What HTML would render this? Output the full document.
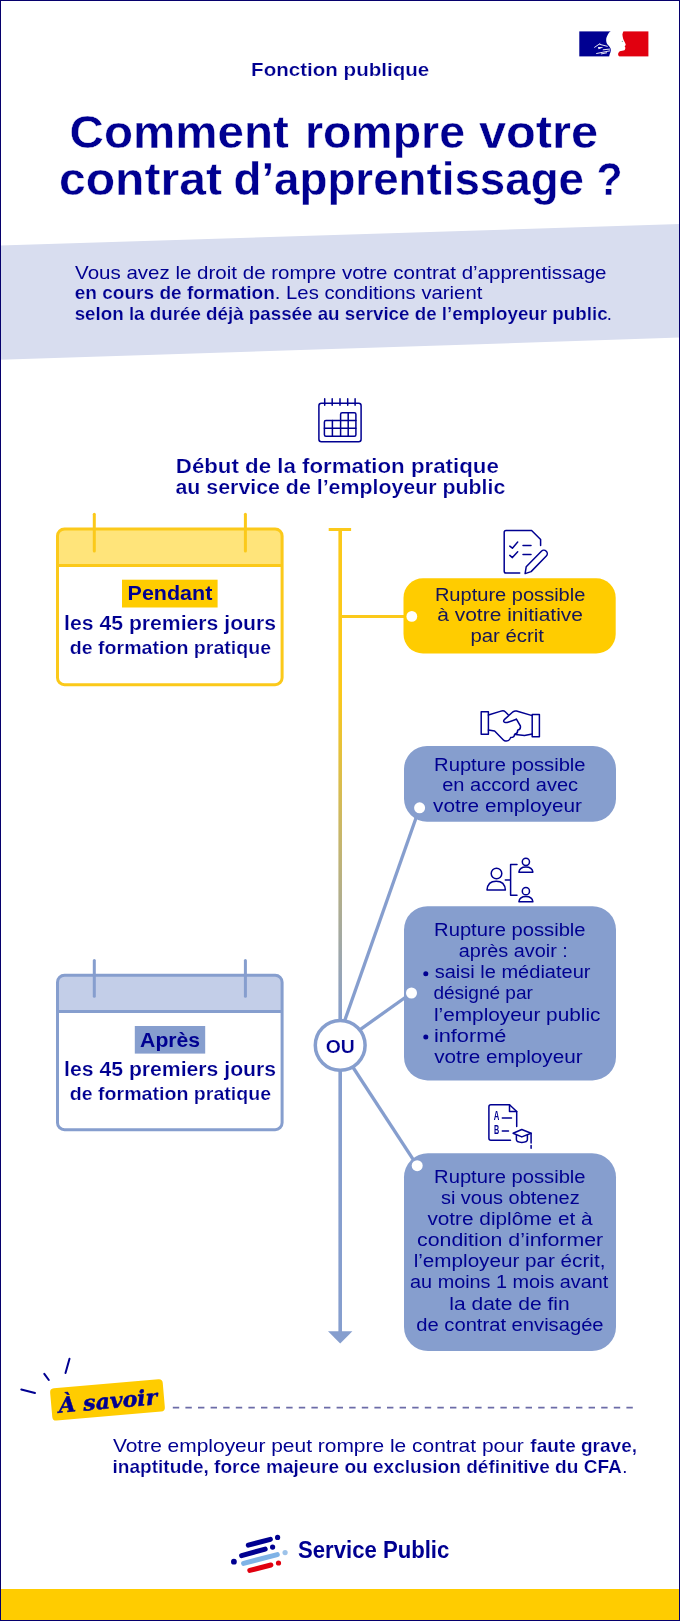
<!DOCTYPE html>
<html lang="fr">
<head>
<meta charset="utf-8">
<title>Comment rompre votre contrat d’apprentissage ?</title>
<style>
  html, body { margin: 0; padding: 0; background: #ffffff; }
  body { width: 680px; height: 1621px; overflow: hidden; }
  svg { display: block; will-change: transform; }
  text { font-family: "Liberation Sans", sans-serif; fill: #000091; }
  .b { font-weight: bold; }
  text.t2 { stroke: #ffffff; stroke-width: 0.2px; }
  text.t3 { stroke: #d8ddef; stroke-width: 0.2px; }
  text.thin { stroke: #ffffff; stroke-width: 0.4px; }
  text.dk { fill: #161659; }
  .serif { font-family: "DejaVu Serif", "Liberation Serif", serif; font-weight: bold; font-style: italic; }
  .ic { fill: none; stroke: #000091; stroke-width: 1.5; stroke-linecap: round; stroke-linejoin: round; }
</style>
</head>
<body>
<svg width="680" height="1621" viewBox="0 0 680 1621">
  <!-- background -->
  <rect x="0" y="0" width="680" height="1621" fill="#ffffff"/>

  <!-- intro band -->
  <polygon points="0,245.4 680,224.1 680,337.6 0,359.7" fill="#d8ddef"/>

  <!-- footer band -->
  <rect x="0" y="1589" width="680" height="32" fill="#ffcc00"/>

  <!-- SECTION:HEADER -->
  <g id="flag">
    <rect x="579.3" y="31.4" width="36" height="25" fill="#000091"/>
    <rect x="615" y="31.4" width="33.4" height="25" fill="#e1000f"/>
    <path d="M611,30.8 L610.5,31.3 C609.3,32.2 608.4,33.4 607.9,34.6 C607,36.2 606.3,37.8 606.2,39.3 C606.1,40.5 606.2,41.6 606.5,42.6 C606.7,43.4 607,44 607.5,44.5 C608.2,45.5 609.3,46.2 609.9,47.2 C610.6,48.2 610.9,49.3 610.8,50.5 C610.7,51.7 610.3,52.8 609.9,53.8 C609.6,54.7 609.3,55.6 609.2,56.5 L609.2,57 L619.4,57 L619.1,56.5 C618.6,55.9 618.1,55.3 618.1,54.5 C618.1,53.1 618.7,52 619.8,51.2 C621.2,50.5 623.2,50.9 624.4,50.2 C625.2,49.6 625,48.8 625.4,47.9 C625.6,47.3 624.6,47 624.7,46.5 C624.9,45.8 625.9,45.3 625.7,44.5 C625.2,42.5 623.6,40.6 623.1,38.6 C622.8,37.2 622.5,35.9 622.4,34.6 C622.5,33.5 622.9,32.4 623.4,31.3 L623.6,30.8 Z" fill="#ffffff"/>
    <g stroke="#ffffff" stroke-width="0.9" stroke-linecap="round" fill="none">
      <path d="M594.6,47.3 L599.9,43.7"/>
      <path d="M599.9,44.4 L607.3,46.3"/>
      <path d="M603.2,49.8 L609.6,49.1"/>
      <path d="M596.6,53.5 L609.6,50.9"/>
      <path d="M601.3,53.9 L606.6,52.8"/>
    </g>
    <path d="M597.9,46.9 L603.4,47.3 L598.6,49.3 Z" fill="#ffffff"/>
    <circle cx="622.4" cy="41.4" r="0.7" fill="#8fb0a8"/>
  </g>
  <text class="b t2" x="251.1" y="75.5" font-size="19" textLength="178.2" lengthAdjust="spacingAndGlyphs">Fonction publique</text>
  <text class="b thin" y="147.8" font-size="46"><tspan x="69.6" textLength="219.2" lengthAdjust="spacingAndGlyphs">Comment</tspan> <tspan x="304.9" textLength="160.1" lengthAdjust="spacingAndGlyphs">rompre</tspan> <tspan x="478.9" textLength="119.2" lengthAdjust="spacingAndGlyphs">votre</tspan></text>
  <text class="b thin" y="194.9" font-size="46"><tspan x="59.0" textLength="163.0" lengthAdjust="spacingAndGlyphs">contrat</tspan> <tspan x="233.5" textLength="350.5" lengthAdjust="spacingAndGlyphs">d’apprentissage</tspan> <tspan x="596.6" textLength="26.1" lengthAdjust="spacingAndGlyphs">?</tspan></text>
  <!-- SECTION:INTRO -->
  <text x="75.1" y="278.5" font-size="18.5" textLength="531.4" lengthAdjust="spacingAndGlyphs">Vous avez le droit de rompre votre contrat d’apprentissage</text>
  <text class="b t3" x="74.7" y="299.3" font-size="18.5" textLength="200.2" lengthAdjust="spacingAndGlyphs">en cours de formation</text>
  <text x="274.8" y="299.3" font-size="18.5" textLength="207.5" lengthAdjust="spacingAndGlyphs">. Les conditions varient</text>
  <text class="b t3" x="74.7" y="320.3" font-size="18.5" textLength="532.9" lengthAdjust="spacingAndGlyphs">selon la durée déjà passée au service de l’employeur public</text>
  <text x="606.8" y="320.3" font-size="18.5">.</text>
  <!-- SECTION:TIMELINE -->
  <defs>
    <linearGradient id="gline" gradientUnits="userSpaceOnUse" x1="0" y1="690" x2="0" y2="1020">
      <stop offset="0" stop-color="#fbc91a"/>
      <stop offset="1" stop-color="#869ece"/>
    </linearGradient>
  </defs>
  <text class="b t2" x="175.8" y="473.1" font-size="19.5" textLength="323.0" lengthAdjust="spacingAndGlyphs">Début de la formation pratique</text>
  <text class="b t2" x="175.5" y="494.4" font-size="19.5" textLength="329.8" lengthAdjust="spacingAndGlyphs">au service de l’employeur public</text>
  <!-- top cap -->
  <rect x="328.7" y="528" width="22.4" height="3" fill="#fbc91a"/>
  <!-- vertical line -->
  <rect x="338.4" y="529" width="3.6" height="804" fill="url(#gline)"/>
  <!-- arrow head -->
  <polygon points="328,1331.2 352.4,1331.2 340.2,1343.5" fill="#869ece"/>
  <!-- branch to yellow box -->
  <rect x="340" y="615" width="66" height="3" fill="#fbc91a"/>
  <!-- branches from OU -->
  <g stroke="#869ece" stroke-width="3.3" fill="none">
    <line x1="342.8" y1="1026" x2="419.6" y2="807.8"/>
    <line x1="351" y1="1036.1" x2="411.5" y2="993"/>
    <line x1="348.2" y1="1060" x2="417.2" y2="1165.7"/>
  </g>
  <circle cx="340.2" cy="1045.3" r="24.9" fill="#ffffff" stroke="#869ece" stroke-width="3.5"/>
  <text class="b t2" x="325.7" y="1053.3" font-size="18.2" textLength="29.1" lengthAdjust="spacingAndGlyphs">OU</text>
  <!-- SECTION:LEFTBOXES -->
  <!-- Pendant (yellow calendar) -->
  <g>
    <rect x="57.5" y="529" width="224.6" height="155.7" rx="7" ry="7" fill="#ffffff"/>
    <path d="M57.5,565.6 L57.5,536 Q57.5,529 64.5,529 L275.1,529 Q282.1,529 282.1,536 L282.1,565.6 Z" fill="#ffe47a"/>
    <rect x="57.5" y="529" width="224.6" height="155.7" rx="7" ry="7" fill="none" stroke="#fbc91a" stroke-width="3"/>
    <line x1="57.5" y1="565.6" x2="282.1" y2="565.6" stroke="#fbc91a" stroke-width="3"/>
    <line x1="94.3" y1="514.2" x2="94.3" y2="551.1" stroke="#fbc91a" stroke-width="3" stroke-linecap="round"/>
    <line x1="245.4" y1="514.2" x2="245.4" y2="551.1" stroke="#fbc91a" stroke-width="3" stroke-linecap="round"/>
    <rect x="122" y="579.7" width="95.6" height="27.8" fill="#ffcc00"/>
    <text class="b" x="127.6" y="600.4" font-size="20" textLength="84.7" lengthAdjust="spacingAndGlyphs">Pendant</text>
    <text class="b t2" x="64.1" y="629.5" font-size="20" textLength="212.0" lengthAdjust="spacingAndGlyphs">les 45 premiers jours</text>
    <text class="b t2" x="69.8" y="653.5" font-size="18" textLength="201.3" lengthAdjust="spacingAndGlyphs">de formation pratique</text>
  </g>
  <!-- Après (blue calendar) -->
  <g>
    <rect x="57.5" y="975.2" width="224.6" height="154.5" rx="7" ry="7" fill="#ffffff"/>
    <path d="M57.5,1011.5 L57.5,982.2 Q57.5,975.2 64.5,975.2 L275.1,975.2 Q282.1,975.2 282.1,982.2 L282.1,1011.5 Z" fill="#c3cee8"/>
    <rect x="57.5" y="975.2" width="224.6" height="154.5" rx="7" ry="7" fill="none" stroke="#869ece" stroke-width="3"/>
    <line x1="57.5" y1="1011.5" x2="282.1" y2="1011.5" stroke="#869ece" stroke-width="3"/>
    <line x1="94.3" y1="960.4" x2="94.3" y2="996.2" stroke="#869ece" stroke-width="3" stroke-linecap="round"/>
    <line x1="245.4" y1="960.4" x2="245.4" y2="996.2" stroke="#869ece" stroke-width="3" stroke-linecap="round"/>
    <rect x="134.8" y="1026" width="70.4" height="27.6" fill="#869ece"/>
    <text class="b" x="140.1" y="1046.6" font-size="20" textLength="60.0" lengthAdjust="spacingAndGlyphs">Après</text>
    <text class="b t2" x="64.1" y="1076.4" font-size="20" textLength="212.0" lengthAdjust="spacingAndGlyphs">les 45 premiers jours</text>
    <text class="b t2" x="69.8" y="1099.8" font-size="18" textLength="201.3" lengthAdjust="spacingAndGlyphs">de formation pratique</text>
  </g>
  <!-- SECTION:RIGHTBOXES -->
  <g>
    <rect x="403.5" y="578.2" width="212.2" height="75.4" rx="19.5" ry="19.5" fill="#ffcc00"/>
    <circle cx="411.8" cy="616.4" r="5.4" fill="#ffffff"/>
    <text class="dk" x="434.9" y="600.6" font-size="18.3" textLength="150.5" lengthAdjust="spacingAndGlyphs">Rupture possible</text>
    <text class="dk" x="437.2" y="621.4" font-size="18.3" textLength="145.8" lengthAdjust="spacingAndGlyphs">à votre initiative</text>
    <text class="dk" x="470.4" y="642.2" font-size="18.3" textLength="73.5" lengthAdjust="spacingAndGlyphs">par écrit</text>
  </g>
  <g>
    <rect x="404" y="746" width="212" height="75.8" rx="23" ry="23" fill="#869ece"/>
    <circle cx="419.6" cy="807.8" r="5.5" fill="#ffffff"/>
    <text x="434.1" y="770.6" font-size="18.3" textLength="151.5" lengthAdjust="spacingAndGlyphs">Rupture possible</text>
    <text x="442.2" y="791.4" font-size="18.3" textLength="135.9" lengthAdjust="spacingAndGlyphs">en accord avec</text>
    <text x="433.0" y="812.2" font-size="18.3" textLength="148.9" lengthAdjust="spacingAndGlyphs">votre employeur</text>
  </g>
  <g>
    <rect x="404" y="906.2" width="212" height="174.2" rx="23.5" ry="23.5" fill="#869ece"/>
    <circle cx="411.5" cy="993" r="5.5" fill="#ffffff"/>
    <text x="434.1" y="936.3" font-size="18.3" textLength="151.5" lengthAdjust="spacingAndGlyphs">Rupture possible</text>
    <text x="458.7" y="957.3" font-size="18.3" textLength="109.1" lengthAdjust="spacingAndGlyphs">après avoir :</text>
    <circle cx="425.8" cy="973.8" r="2.5" fill="#000091"/>
    <text x="434.7" y="978.4" font-size="18.3" textLength="155.8" lengthAdjust="spacingAndGlyphs">saisi le médiateur</text>
    <text x="433.4" y="999.4" font-size="18.3" textLength="99.5" lengthAdjust="spacingAndGlyphs">désigné par</text>
    <text x="434.0" y="1020.5" font-size="18.3" textLength="166.4" lengthAdjust="spacingAndGlyphs">l’employeur public</text>
    <circle cx="425.8" cy="1037.0" r="2.5" fill="#000091"/>
    <text x="433.9" y="1041.6" font-size="18.3" textLength="72.5" lengthAdjust="spacingAndGlyphs">informé</text>
    <text x="434.2" y="1062.6" font-size="18.3" textLength="148.4" lengthAdjust="spacingAndGlyphs">votre employeur</text>
  </g>
  <g>
    <rect x="404" y="1153.2" width="212" height="197.8" rx="24" ry="24" fill="#869ece"/>
    <circle cx="417.2" cy="1165.7" r="5.5" fill="#ffffff"/>
    <text x="434.1" y="1182.6" font-size="18.3" textLength="151.5" lengthAdjust="spacingAndGlyphs">Rupture possible</text>
    <text x="440.9" y="1203.8" font-size="18.3" textLength="138.8" lengthAdjust="spacingAndGlyphs">si vous obtenez</text>
    <text x="427.4" y="1224.9" font-size="18.3" textLength="165.2" lengthAdjust="spacingAndGlyphs">votre diplôme et à</text>
    <text x="417.0" y="1246.0" font-size="18.3" textLength="186.2" lengthAdjust="spacingAndGlyphs">condition d’informer</text>
    <text x="413.7" y="1267.2" font-size="18.3" textLength="191.7" lengthAdjust="spacingAndGlyphs">l’employeur par écrit,</text>
    <text x="410.1" y="1288.3" font-size="18.3" textLength="198.2" lengthAdjust="spacingAndGlyphs">au moins 1 mois avant</text>
    <text x="449.3" y="1309.5" font-size="18.3" textLength="120.3" lengthAdjust="spacingAndGlyphs">la date de fin</text>
    <text x="416.3" y="1330.6" font-size="18.3" textLength="187.3" lengthAdjust="spacingAndGlyphs">de contrat envisagée</text>
  </g>
  <!-- SECTION:ICONS -->
  <!-- calendar icon -->
  <g class="ic">
    <rect x="318.9" y="403.2" width="42.2" height="38.6" rx="2.5" ry="2.5"/>
    <path d="M324.7,398.8 V405.3 M332.2,398.8 V405.3 M340,398.8 V405.3 M347.7,398.8 V405.3 M355.1,398.8 V405.3"/>
    <path d="M340.6,420.6 V414.2 Q340.6,412.7 342.1,412.7 H354.4 Q355.9,412.7 355.9,414.2 V434.7 Q355.9,436.2 354.4,436.2 H325.9 Q324.4,436.2 324.4,434.7 V422.1 Q324.4,420.6 325.9,420.6 Z"/>
    <path d="M340.6,420.6 H355.9 M324.4,428.3 H355.9 M332.4,420.6 V436.2 M340.6,420.6 V436.2 M348.2,412.7 V436.2"/>
  </g>
  <!-- document + pencil icon -->
  <g class="ic">
    <path d="M519.7,573 H506 Q504.2,573 504.2,571.2 V532.3 Q504.2,530.5 506,530.5 H531.6 L540.6,539.5 V545.4"/>
    <path d="M509.8,546.1 L512.4,548.2 L517.7,542.1 M523,545.4 H531 M509.8,555.4 L512.4,557.6 L517.7,551.8 M523,554.6 H531"/>
    <path d="M525.1,573.6 L526.2,566.8 L541.4,551.3 A3.4,3.4 0 0 1 546.3,556.1 L531.1,571.6 Z"/>
  </g>
  <!-- handshake icon -->
  <g class="ic">
    <rect x="481.2" y="711.8" width="7.2" height="22.4"/>
    <rect x="532.2" y="714.4" width="7.2" height="22.4"/>
    <path d="M488.4,715 L501.8,710.9 Q503.8,710.4 505.2,711.7 L508.2,714.7"/>
    <path d="M532.2,715.6 L516.5,711 Q514.5,710.6 513,711.8 L504.3,719.6 Q502.8,721.6 504.6,722.3 Q506.2,722.8 508,722.2 L516.4,719.2"/>
    <path d="M516.4,719.2 L520.4,726 Q520.9,729.6 517.6,730.2 Q518,733.6 514.6,734.2 Q514.6,737.4 510.6,737.6 Q509.6,740.8 506.2,741 Q504.6,741.2 503.4,740 L494.6,731 L488.4,730"/>
    <path d="M532.2,734 L524.5,735.4 L515.5,734.5"/>
  </g>
  <!-- people / mediation icon -->
  <g class="ic">
    <circle cx="496.5" cy="873.5" r="5.3"/>
    <path d="M487,890 Q487.6,881.2 496.2,881.2 Q504.8,881.2 505.4,890 Z"/>
    <circle cx="525.9" cy="861.8" r="3.6"/>
    <path d="M518.9,872.2 Q519.6,866.9 525.9,866.9 Q532.2,866.9 532.9,872.2 Z"/>
    <circle cx="525.9" cy="891.2" r="3.6"/>
    <path d="M518.9,901.8 Q519.6,896.5 525.9,896.5 Q532.2,896.5 532.9,901.8 Z"/>
    <path d="M517,864.4 H510.6 V895.3 H517 M505.3,880 H510.6"/>
  </g>
  <!-- diploma icon -->
  <g class="ic">
    <path d="M510.5,1140.3 H490.9 Q488.9,1140.3 488.9,1138.3 V1106.8 Q488.9,1104.8 490.9,1104.8 H509.5 L516.7,1111.5 V1126.4"/>
    <path d="M509.5,1104.8 V1111.5 H516.7"/>
    <path d="M502.3,1117.9 H511.5 M502.3,1131 H508.5"/>
    <path d="M521.8,1129.5 L531.1,1133.3 L521.8,1136.9 L513.1,1133.3 Z"/>
    <path d="M516.4,1135.2 V1139.6 Q516.4,1142.4 521.8,1142.4 Q527.4,1142.4 527.4,1139.6 V1135.2"/>
    <path d="M531.1,1133.3 V1142.9 M531.1,1145.6 V1148.2"/>
  </g>
  <text class="b" x="493.8" y="1120.3" font-size="13.6" textLength="5.6" lengthAdjust="spacingAndGlyphs">A</text>
  <text class="b" x="494" y="1133.7" font-size="13.6" textLength="5.2" lengthAdjust="spacingAndGlyphs">B</text>
  <!-- SECTION:ASAVOIR -->
  <g stroke="#000091" stroke-width="2" stroke-linecap="round" fill="none">
    <line x1="21.3" y1="1389.5" x2="35" y2="1393"/>
    <line x1="44.3" y1="1373.8" x2="48.8" y2="1380"/>
    <line x1="69.5" y1="1358.8" x2="65.5" y2="1373"/>
  </g>
  <g transform="rotate(-4.98 107.5 1399.9)">
    <rect x="51" y="1383.7" width="113" height="32.4" rx="4" ry="4" fill="#ffcc00"/>
    <text class="serif" stroke="#000091" stroke-width="0.5" x="58.2" y="1408.6" font-size="21.5" textLength="99" lengthAdjust="spacingAndGlyphs">À savoir</text>
  </g>
  <line x1="172.8" y1="1407.7" x2="634.5" y2="1407.7" stroke="#6c6ca8" stroke-width="1.8" stroke-dasharray="6.4 6.2"/>
  <text x="112.9" y="1452.4" font-size="18.5" textLength="410.9" lengthAdjust="spacingAndGlyphs">Votre employeur peut rompre le contrat pour</text>
  <text class="b t2" x="530.3" y="1452.4" font-size="18.5" textLength="106.7" lengthAdjust="spacingAndGlyphs">faute grave,</text>
  <text class="b t2" x="112.5" y="1473" font-size="18.5" textLength="509.3" lengthAdjust="spacingAndGlyphs">inaptitude, force majeure ou exclusion définitive du CFA</text>
  <text x="622.2" y="1473" font-size="18.5">.</text>
  <!-- SECTION:FOOTER -->
  <g stroke-linecap="round" fill="none" stroke-width="5">
    <line x1="248.3" y1="1545.2" x2="270.4" y2="1539.3" stroke="#000091"/>
    <line x1="241.6" y1="1555.6" x2="265.2" y2="1549.1" stroke="#000091"/>
    <line x1="243.6" y1="1563.4" x2="277.3" y2="1554.6" stroke="#7fb3e6"/>
    <line x1="249.8" y1="1570.4" x2="270.9" y2="1565" stroke="#e1000f"/>
  </g>
  <circle cx="277.6" cy="1537.4" r="2.6" fill="#000091"/>
  <circle cx="272.6" cy="1547.1" r="2.6" fill="#000091"/>
  <circle cx="285.1" cy="1552.6" r="2.6" fill="#9dc3ea"/>
  <circle cx="233.9" cy="1561.7" r="2.9" fill="#000091"/>
  <circle cx="278.5" cy="1563" r="2.6" fill="#e1000f"/>
  <text class="b" x="298.0" y="1558.2" font-size="23.3" textLength="151.3" lengthAdjust="spacingAndGlyphs">Service Public</text>

  <!-- outer frame -->
  <rect x="0.5" y="0.5" width="679" height="1620" fill="none" stroke="#06006c" stroke-width="1"/>
</svg>
</body>
</html>
